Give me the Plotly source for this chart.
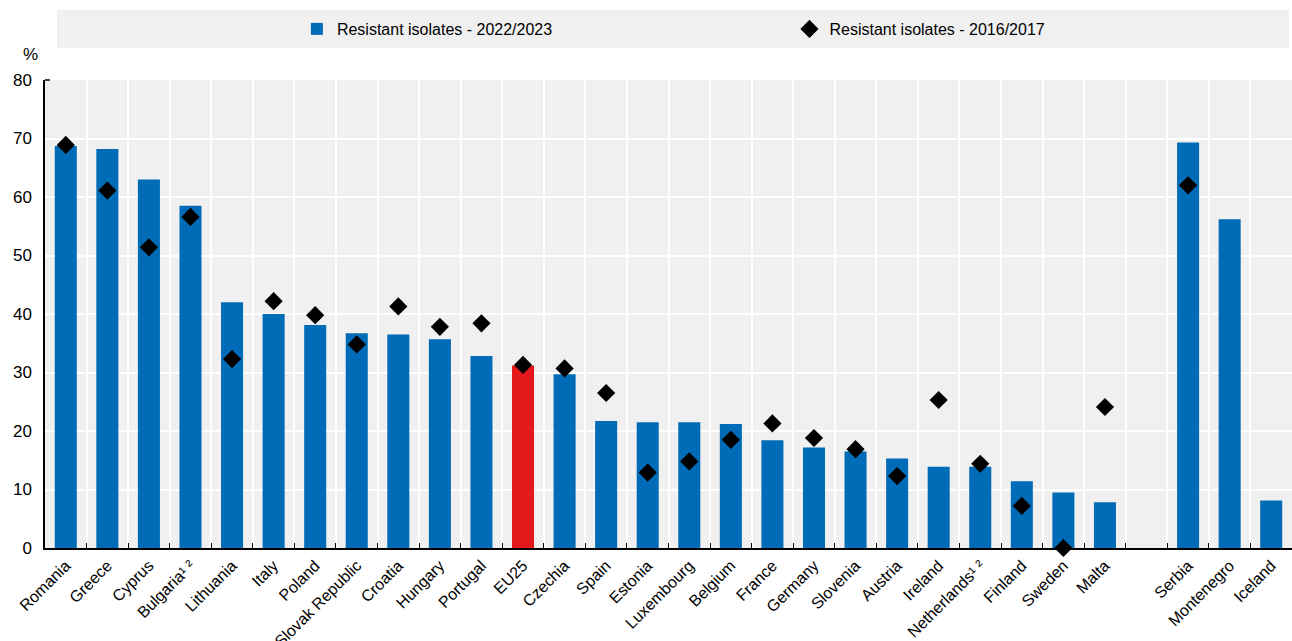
import plotly.graph_objects as go

categories = ["Romania", "Greece", "Cyprus", "Bulgaria¹ ²", "Lithuania", "Italy", "Poland",
              "Slovak Republic", "Croatia", "Hungary", "Portugal", "EU25", "Czechia", "Spain",
              "Estonia", "Luxembourg", "Belgium", "France", "Germany", "Slovenia", "Austria",
              "Ireland", "Netherlands¹ ²", "Finland", "Sweden", "Malta", " ", "Serbia",
              "Montenegro", "Iceland"]
res_2022 = [68.7, 68.2, 63.0, 58.5, 42.0, 40.0, 38.1, 36.7, 36.5, 35.7, 32.8, 31.2, 29.7, 21.7,
            21.5, 21.5, 21.2, 18.4, 17.2, 16.5, 15.3, 13.9, 13.9, 11.4, 9.5, 7.8, None, 69.3,
            56.2, 8.1]
res_2016 = [68.9, 61.1, 51.4, 56.6, 32.3, 42.2, 39.8, 34.8, 41.3, 37.8, 38.4, 31.3, 30.7, 26.5,
            12.9, 14.8, 18.5, 21.3, 18.8, 16.9, 12.3, 25.3, 14.4, 7.2, 0.0, 24.1, None, 62.0,
            None, None]
y_ticks = [0, 10, 20, 30, 40, 50, 60, 70, 80]

BLUE = "#006BB6"
RED = "#E3191C"
FONT = "Liberation Sans Narrow, Arial Narrow, Liberation Sans, Arial"

bar_colors = [RED if c == "EU25" else BLUE for c in categories]

fig = go.Figure()
fig.add_trace(go.Bar(
    x=categories, y=res_2022, name="Resistant isolates - 2022/2023",
    marker=dict(color=bar_colors, line=dict(width=0)), legend="legend",
))
fig.add_trace(go.Scatter(
    x=categories, y=res_2016, name="Resistant isolates - 2016/2017", mode="markers",
    marker=dict(symbol="diamond", size=14, color="black"), cliponaxis=False, legend="legend2",
))

# grey legend band
fig.add_shape(type="rect", xref="paper", yref="paper", x0=0.0096, x1=0.9976, y0=1.0684, y1=1.1496,
              fillcolor="#F0F0F0", line=dict(width=0), layer="below")
# small top tick of the y axis
fig.add_shape(type="line", xref="paper", yref="paper", x0=0, x1=0.004, y0=1, y1=1,
              line=dict(color="black", width=1.5))

fig.add_annotation(text="%", xref="paper", yref="paper", x=-0.012, y=1.055, xanchor="center",
                   yanchor="middle", showarrow=False, font=dict(size=17, color="black", family=FONT))

legend_common = dict(orientation="h", yanchor="middle", xanchor="left", y=1.109,
                     bgcolor="rgba(0,0,0,0)", font=dict(size=16, family=FONT), itemwidth=30)

fig.update_layout(
    width=1292, height=641,
    margin=dict(l=45, r=0, t=80, b=93, autoexpand=False),
    plot_bgcolor="#F0F0F0", paper_bgcolor="white",
    font=dict(family=FONT, size=16, color="black"),
    bargap=0.47,
    showlegend=True,
    legend=dict(x=0.202, **legend_common),
    legend2=dict(x=0.597, **legend_common),
    xaxis=dict(type="category", categoryorder="array", categoryarray=categories,
               tickson="boundaries", ticks="inside", ticklen=5, tickcolor="black",
               showgrid=True, gridcolor="white", gridwidth=2,
               showline=True, linecolor="black", linewidth=2, automargin=False,
               tickangle=-45, tickfont=dict(size=16, family=FONT), range=[-0.5, 29.5]),
    yaxis=dict(range=[0, 80], tickvals=y_ticks, showgrid=True, gridcolor="white", gridwidth=2,
               showline=True, linecolor="black", linewidth=1.5, zeroline=False, ticks="",
               automargin=False,
               tickfont=dict(size=17, family=FONT), ticklabelstandoff=8),
)

fig.write_html("out.html", config={"displayModeBar": False},
               post_script="document.body.style.margin='0';document.body.style.overflow='hidden';")
